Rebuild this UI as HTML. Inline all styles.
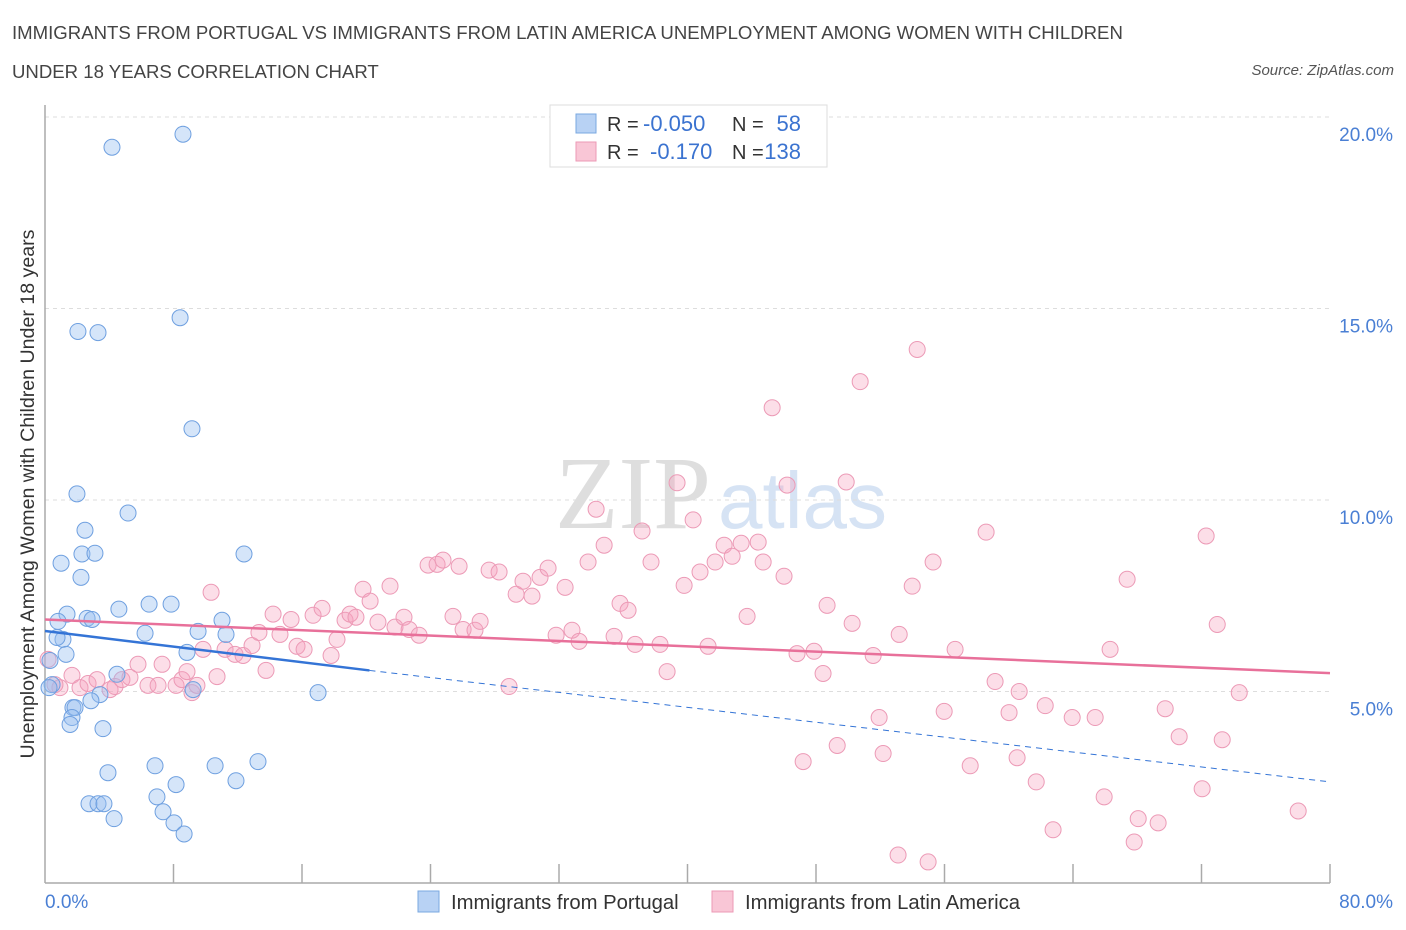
<!DOCTYPE html>
<html><head><meta charset="utf-8"><style>
body{margin:0;background:#fff;font-family:"Liberation Sans",sans-serif;}
#wrap{position:relative;width:1406px;height:930px;overflow:hidden;}
.t{position:absolute;color:#444;font-size:18.6px;white-space:nowrap;}
</style></head><body>
<div id="wrap">
<div class="t" style="left:12px;top:22px">IMMIGRANTS FROM PORTUGAL VS IMMIGRANTS FROM LATIN AMERICA UNEMPLOYMENT AMONG WOMEN WITH CHILDREN</div>
<div class="t" style="left:12px;top:61px">UNDER 18 YEARS CORRELATION CHART</div>
<div class="t" style="right:12px;top:62px;font-style:italic;font-size:15px;color:#555">Source: ZipAtlas.com</div>
<svg id="svg" width="1406" height="930" style="position:absolute;left:0;top:0"></svg>
</div>
<script>
const yTicks=[5,10,15,20];
const yTickLabels=["5.0%","10.0%","15.0%","20.0%"];
const xTickLabels=["0.0%","80.0%"];
const blueX=[4.17,8.59,8.41,2.05,3.3,9.15,1.99,5.17,2.49,1.0,2.3,3.11,12.39,2.24,4.6,6.48,7.85,1.37,2.62,2.93,0.81,11.02,6.23,9.53,11.27,1.12,0.75,1.31,8.84,0.31,4.48,0.44,0.25,3.42,2.86,9.22,17.0,1.74,1.87,1.68,1.56,3.61,3.92,6.85,10.59,13.26,8.16,11.89,6.97,2.74,3.3,3.67,7.35,4.3,8.03,8.66];
const blueY=[19.21,19.55,14.76,14.4,14.37,11.86,10.16,9.66,9.21,8.35,8.59,8.61,8.59,7.98,7.15,7.28,7.28,7.02,6.91,6.88,6.83,6.86,6.52,6.57,6.49,6.36,6.41,5.97,6.02,5.81,5.45,5.18,5.1,4.92,4.76,5.05,4.97,4.58,4.58,4.32,4.14,4.03,2.88,3.06,3.06,3.17,2.57,2.67,2.25,2.07,2.07,2.07,1.86,1.68,1.57,1.28];
const pinkX=[0.19,0.93,1.68,0.62,2.18,2.68,3.24,4.05,4.36,4.79,5.29,5.79,6.41,7.04,7.29,8.16,8.53,8.84,9.15,9.46,9.84,10.34,10.71,11.21,11.83,12.33,12.89,13.32,13.76,14.2,14.63,15.32,15.69,16.13,16.69,17.25,17.81,18.18,18.68,18.99,19.36,19.8,20.24,20.73,21.48,21.79,22.35,22.67,23.29,23.85,24.41,24.78,25.78,26.03,25.4,26.77,27.09,27.65,28.27,28.89,29.33,29.76,30.32,30.82,31.32,31.82,32.38,32.81,33.25,33.81,34.31,34.81,35.43,35.8,36.3,36.74,37.17,37.73,38.29,38.73,39.35,39.79,40.35,40.78,41.28,41.72,42.28,42.78,43.34,43.71,44.4,44.71,45.27,46.01,46.2,46.82,47.2,47.88,48.44,48.69,49.32,49.88,50.25,50.75,51.56,51.93,52.18,53.11,53.18,53.99,54.3,54.98,55.29,55.98,56.66,57.6,58.59,59.15,60.02,60.65,60.52,61.71,62.27,62.76,63.95,65.38,65.94,66.31,67.37,67.81,68.06,69.3,69.74,70.61,72.04,72.29,72.98,73.29,74.35,78.02];
const pinkY=[5.84,5.1,5.42,5.18,5.1,5.21,5.31,5.05,5.13,5.31,5.37,5.71,5.16,5.16,5.71,5.16,5.31,5.52,4.97,5.16,6.1,7.59,5.39,6.1,5.97,5.94,6.2,6.54,5.55,7.02,6.49,6.88,6.18,6.1,6.99,7.17,5.94,6.36,6.86,7.02,6.94,7.67,7.36,6.81,7.75,6.68,6.94,6.62,6.47,8.3,8.32,8.43,8.27,6.62,6.96,6.6,6.83,8.17,8.12,5.13,7.54,7.88,7.49,7.98,8.22,6.47,7.72,6.6,6.31,8.38,9.76,8.82,6.44,7.3,7.12,6.23,9.19,8.38,6.23,5.52,10.45,7.77,9.48,8.12,6.18,8.38,8.82,8.53,8.87,6.96,8.9,8.38,12.41,8.01,10.39,5.99,3.17,6.05,5.47,7.25,3.59,10.47,6.78,13.09,5.94,4.32,3.38,0.73,6.49,7.75,13.93,0.55,8.38,4.48,6.1,3.06,9.16,5.26,4.45,5.0,3.27,2.64,4.63,1.39,4.32,4.32,2.25,6.1,7.93,1.07,1.68,1.57,4.55,3.82,2.46,9.06,6.75,3.74,4.97,1.88];
const blueTrend=[6.58,5.55,2.64]; // at x=0, 20.2, 80
const pinkTrend=[6.88,5.48]; // at x=0, 80
const X0=45,X1=1330,Y0=883,Y1=117;
const sx=v=>X0+v/80*(X1-X0), sy=v=>Y0-v/20*(Y0-Y1);
const svg=document.getElementById('svg');const NS='http://www.w3.org/2000/svg';
function mk(tag,at,parent){const e=document.createElementNS(NS,tag);for(const k in at)e.setAttribute(k,at[k]);(parent||svg).appendChild(e);return e;}
let w=mk('text',{x:555,y:528,'font-family':'Liberation Serif,serif','font-size':104,fill:'#dedede'});w.textContent='ZIP';


w=mk('text',{x:718,y:528,'font-family':'Liberation Sans,sans-serif','font-size':80,fill:'#d6e3f4'});w.textContent='atlas';


yTicks.forEach((t,i)=>{
 const g=mk('line',{x1:X0,x2:X1,y1:sy(t),y2:sy(t),stroke:'#ddd','stroke-dasharray':'4,4'});
 
 
 const l=mk('text',{x:1393,y:sy(t)+24,'text-anchor':'end','font-size':19,fill:'#4a7fd4','font-family':'Liberation Sans,sans-serif'});l.textContent=yTickLabels[i];
 
 
});
let ax=mk('line',{x1:X0,x2:X0,y1:105,y2:Y0,stroke:'#aaa','stroke-width':1.5});


ax=mk('line',{x1:X0,x2:X1,y1:Y0,y2:Y0,stroke:'#aaa','stroke-width':1.5});


for(let i=1;i<=10;i++){const tk=mk('line',{x1:sx(i*8),x2:sx(i*8),y1:864,y2:Y0,stroke:'#aaa','stroke-width':1.5});
 
 }
[[0,'start'],[80,'end']].forEach((d,i)=>{const l=mk('text',{x:d[0]==0?45:1393,y:908,'text-anchor':d[1],'font-size':19,fill:'#4a7fd4','font-family':'Liberation Sans,sans-serif'});l.textContent=xTickLabels[i];
 
 });
pinkX.forEach((x,i)=>{const c=mk('circle',{cx:sx(x),cy:sy(pinkY[i]),r:8,fill:'rgba(245,160,190,0.35)',stroke:'#ec9ab6','stroke-width':1});
 
 });
blueX.forEach((x,i)=>{const c=mk('circle',{cx:sx(x),cy:sy(blueY[i]),r:8,fill:'rgba(150,190,240,0.4)',stroke:'#6fa0e0','stroke-width':1});
 
 });
let tl=mk('line',{x1:sx(0),y1:sy(blueTrend[0]),x2:sx(20.2),y2:sy(blueTrend[1]),stroke:'#3474d6','stroke-width':2.5});


tl=mk('line',{x1:sx(20.2),y1:sy(blueTrend[1]),x2:sx(80),y2:sy(blueTrend[2]),stroke:'#3474d6','stroke-width':1,'stroke-dasharray':'6,5'});


tl=mk('line',{x1:sx(0),y1:sy(pinkTrend[0]),x2:sx(80),y2:sy(pinkTrend[1]),stroke:'#e8709a','stroke-width':2.5});


const yt=mk('text',{x:0,y:0,transform:'translate(34,494) rotate(-90)','text-anchor':'middle','font-size':19.6,fill:'#333','font-family':'Liberation Sans,sans-serif'});yt.textContent='Unemployment Among Women with Children Under 18 years';


const lg=mk('g',{});


mk('rect',{x:550,y:105,width:277,height:62,fill:'#fff',stroke:'#ddd'},lg);
mk('rect',{x:576,y:114,width:20,height:19,fill:'#b8d2f4',stroke:'#7aa8e0'},lg);
mk('rect',{x:576,y:142,width:20,height:19,fill:'#f9c6d6',stroke:'#ec9ab6'},lg);
[[131,'R = ','-0.050','N = ','58'],[159,'R = ','-0.170','N = ','138']].forEach((r,i)=>{
 let t=mk('text',{x:607,y:r[0],'font-size':20,fill:'#333','font-family':'Liberation Sans,sans-serif'},lg);t.textContent=r[1];
 t=mk('text',{x:i?650:643,y:r[0],'font-size':22,fill:'#3b73d0','font-family':'Liberation Sans,sans-serif'},lg);t.textContent=r[2];
 t=mk('text',{x:732,y:r[0],'font-size':20,fill:'#333','font-family':'Liberation Sans,sans-serif'},lg);t.textContent=r[3];
 t=mk('text',{x:801,y:r[0],'text-anchor':'end','font-size':22,fill:'#3b73d0','font-family':'Liberation Sans,sans-serif'},lg);t.textContent=r[4];
});
[[418,'#b8d2f4','#7aa8e0','Immigrants from Portugal','legend-entry-portugal'],[712,'#f9c6d6','#ec9ab6','Immigrants from Latin America','legend-entry-latin-america']].forEach(d=>{
 const g=mk('g',{});
 
 
 mk('rect',{x:d[0],y:891,width:21,height:21,fill:d[1],stroke:d[2]},g);
 const t=mk('text',{x:d[0]+33,y:909,'font-size':20.3,fill:'#333','font-family':'Liberation Sans,sans-serif'},g);t.textContent=d[3];
});
</script>
</body></html>
